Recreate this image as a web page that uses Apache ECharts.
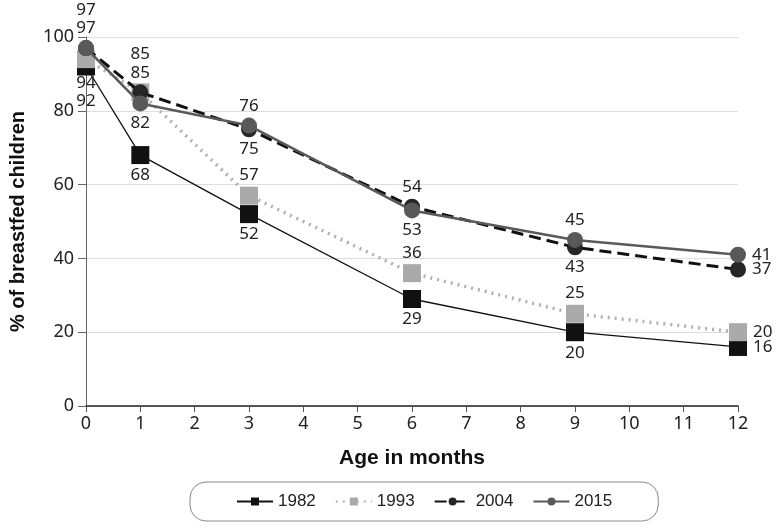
<!DOCTYPE html>
<html>
<head>
<meta charset="utf-8">
<script src="https://cdn.jsdelivr.net/npm/echarts@6/dist/echarts.min.js"></script>
<style>
  html, body { margin: 0; padding: 0; background: #fff; }
  #chart { width: 776px; height: 527px; }
</style>
</head>
<body>
<div id="chart"></div>
<script>
// age in months where the surveys measured breastfeeding
const months = [0, 1, 3, 6, 9, 12];
const seriesNames = ['1982', '1993', '2004', '2015'];
const v1982 = [92, 68, 52, 29, 20, 16];
const v1993 = [94, 85, 57, 36, 25, 20];
const v2004 = [97, 85, 75, 54, 43, 37];
const v2015 = [97, 82, 76, 53, 45, 41];
const yTicks = [0, 20, 40, 60, 80, 100];

const chart = echarts.init(document.getElementById('chart'));
const numFont = 'Noto Sans';

// where each value label sits (top / bottom / right) and a small extra shift
const labelPlace = {
  '1982': [['bottom', 14], ['bottom', 0], ['bottom', 0], ['bottom', 0], ['bottom', 0], ['right', 0]],
  '1993': [['bottom', 4], ['top', -18], ['top', 0], ['top', 0], ['top', 0], ['right', 0]],
  '2004': [['top', 0], ['top', 0], ['bottom', 0], ['top', 0], ['bottom', 0], ['right', 0]],
  '2015': [['top', -18], ['bottom', 0], ['top', 0], ['bottom', 0], ['top', 0], ['right', 0]]
};

const styles = {
  '1982': { color: '#111', symbol: 'rect', size: 18, line: { width: 1.3, type: 'solid', color: '#111' } },
  '1993': { color: '#aaa', symbol: 'rect', size: 18, line: { width: 3.5, type: [2, 5], color: '#b0b0b0' } },
  '2004': { color: '#262626', symbol: 'circle', size: 16, line: { width: 3, type: [12, 6], color: '#111' } },
  '2015': { color: '#595959', symbol: 'circle', size: 16, line: { width: 2.5, type: 'solid', color: '#595959' } }
};

const allValues = [v1982, v1993, v2004, v2015];

const series = seriesNames.map((name, si) => {
  const s = styles[name];
  return {
    name: name,
    type: 'line',
    symbol: s.symbol,
    symbolSize: s.size,
    itemStyle: { color: s.color },
    lineStyle: s.line,
    z: 2 + si,
    data: months.map((m, i) => {
      const [pos, dy] = labelPlace[name][i];
      return {
        value: [m, allValues[si][i]],
        label: {
          show: true,
          position: pos,
          distance: pos === 'right' ? 6 : 3,
          offset: [0, dy],
          color: '#222',
          fontSize: 17,
          fontFamily: numFont
        }
      };
    })
  };
});

const option = {
  animation: false,
  backgroundColor: '#fff',
  grid: { left: 86, right: 38, top: 37, bottom: 121, containLabel: false, outerBoundsMode: 'none' },
  xAxis: {
    type: 'value',
    min: 0,
    max: 12,
    interval: 1,
    name: 'Age in months',
    nameLocation: 'middle',
    nameGap: 42,
    nameTextStyle: { fontSize: 21, fontWeight: 'bold', color: '#111', fontFamily: 'Liberation Sans' },
    axisLine: { lineStyle: { color: '#222', width: 1.5 } },
    axisTick: { show: true, length: 6, lineStyle: { color: '#555' } },
    axisLabel: { color: '#222', fontSize: 18, fontFamily: numFont, margin: 9 },
    splitLine: { show: false }
  },
  yAxis: {
    type: 'value',
    min: 0,
    max: 100,
    interval: 20,
    name: '% of breastfed children',
    nameLocation: 'middle',
    nameGap: 58,
    nameTextStyle: { fontSize: 20, fontWeight: 'bold', color: '#111', fontFamily: 'Liberation Sans' },
    axisLine: { show: true, lineStyle: { color: '#666' } },
    axisTick: { show: true, length: 8, lineStyle: { color: '#666' } },
    axisLabel: {
      color: '#222', fontSize: 18, fontFamily: numFont, margin: 12,
      formatter: v => (yTicks.includes(v) ? String(v) : '')
    },
    splitLine: { show: true, lineStyle: { color: '#ddd' } }
  },
  legend: {
    bottom: 6,
    left: 190,
    data: seriesNames,
    itemWidth: 36,
    itemHeight: 10,
    itemGap: 19,
    padding: [11, 46, 11, 46],
    borderColor: '#888',
    borderWidth: 1,
    borderRadius: 16,
    textStyle: { fontSize: 17, color: '#222', fontFamily: 'Liberation Sans' }
  },
  series: series
};

chart.setOption(option);
</script>
</body>
</html>
